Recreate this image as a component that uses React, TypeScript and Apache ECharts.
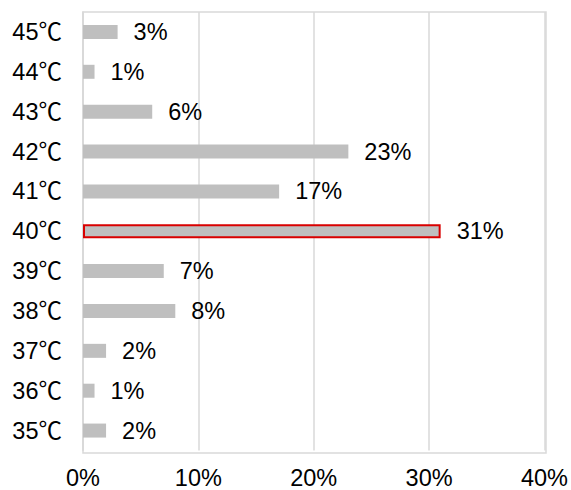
import React, { useEffect, useRef } from "react";
import * as echarts from "echarts";

// Temperature categories, bottom to top
const categories = ["35℃", "36℃", "37℃", "38℃", "39℃", "40℃", "41℃", "42℃", "43℃", "44℃", "45℃"];
// Share of observations per temperature (%)
const shares = [2, 1, 2, 8, 7, 31, 17, 23, 6, 1, 3];
// Highlighted category
const highlight = "40℃";
// Axis range (%)
const axisMin = 0;
const axisMax = 40;
const axisStep = 10;

const FONT = "'Liberation Sans', Arial, 'Noto Sans CJK SC', sans-serif";
const FONT_SIZE = 23.5;

export default function App() {
  const ref = useRef<HTMLDivElement>(null);

  useEffect(() => {
    document.body.style.margin = "0";
    if (!ref.current) return;
    const chart = echarts.init(ref.current, undefined, { renderer: "svg" });
    chart.setOption({
      animation: false,
      grid: { left: 83, right: 25, top: 12, bottom: 37, containLabel: false },
      xAxis: {
        type: "value",
        min: axisMin,
        max: axisMax,
        interval: axisStep,
        axisLine: { show: false },
        axisTick: { show: false },
        splitLine: { show: true, lineStyle: { color: "#d9d9d9", width: 1.5 } },
        axisLabel: {
          formatter: "{value}%",
          color: "#000",
          fontSize: FONT_SIZE,
          fontFamily: FONT,
          margin: 16,
        },
      },
      yAxis: {
        type: "category",
        data: categories,
        axisLine: { show: true, lineStyle: { color: "#d9d9d9", width: 1.5 } },
        axisTick: { show: false },
        axisLabel: { color: "#000", fontSize: FONT_SIZE, fontFamily: FONT, margin: 21 },
      },
      series: [
        {
          type: "bar",
          barWidth: 14,
          data: shares.map((v, i) =>
            categories[i] === highlight
              ? { value: v, itemStyle: { color: "#bfbfbf", borderColor: "#d90000", borderWidth: 2 } }
              : { value: v, itemStyle: { color: "#bfbfbf" } }
          ),
          label: {
            show: true,
            position: "right",
            distance: 16,
            formatter: "{c}%",
            color: "#000",
            fontSize: FONT_SIZE,
            fontFamily: FONT,
          },
        },
      ],
      graphic: [
        {
          type: "rect",
          shape: { x: 83, y: 12, width: 463, height: 441 },
          style: { fill: "none", stroke: "#d9d9d9", lineWidth: 1.5 },
          silent: true,
          z: -1,
        },
      ],
    });
    return () => chart.dispose();
  }, []);

  return <div ref={ref} style={{ width: 571, height: 490, background: "#fff" }} />;
}
